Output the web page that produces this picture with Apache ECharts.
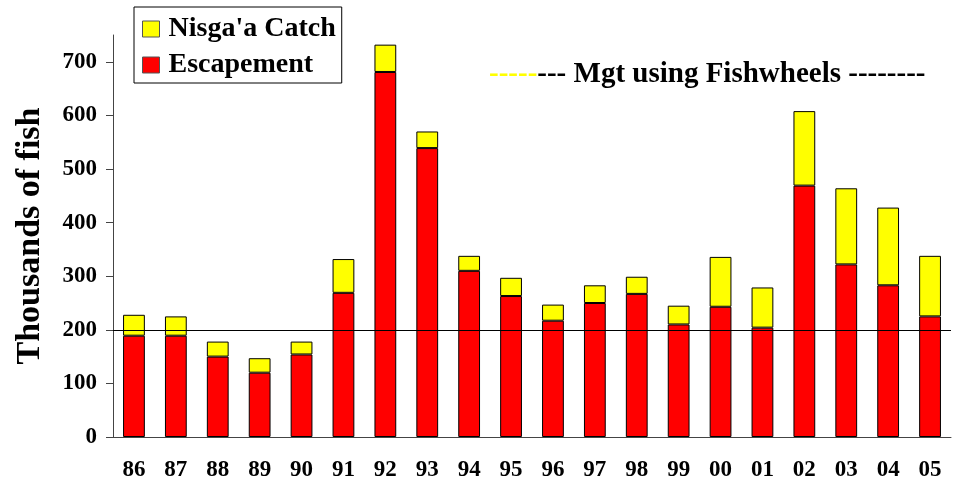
<!DOCTYPE html>
<html><head><meta charset="utf-8">
<script src="https://cdn.jsdelivr.net/npm/echarts@6/dist/echarts.min.js"></script>
<style>html,body{margin:0;padding:0;background:#fff}#c{width:953px;height:482px}</style>
</head><body><div id="c"></div>
<script>
const years = ['86','87','88','89','90','91','92','93','94','95','96','97','98','99','00','01','02','03','04','05'];
const escapement = [189,189,150,120,154,269,681,539,310,263,217,250,267,210,243,204,469,322,283,225];
const catchNisgaa = [39,36,28,27,24,63,51,31,28,34,30,33,32,35,93,75,139,142,145,113];
const yTicks = [0,100,200,300,400,500,600,700];
const refLevel = 200;
const annotation = 'Mgt using Fishwheels';

const F = '"Liberation Serif", "Times New Roman", serif';
const chart = echarts.init(document.getElementById('c'));
chart.setOption({
  animation: false,
  backgroundColor: '#fff',
  title: {
    left: 489, top: 60, padding: 0,
    text: '{y|-----}{b|--- ' + annotation + ' --------}',
    textStyle: {
      rich: {
        y: {color: '#ffff00', fontFamily: F, fontWeight: 'bold', fontSize: 29},
        b: {color: '#000', fontFamily: F, fontWeight: 'bold', fontSize: 29}
      }
    }
  },
  legend: {
    orient: 'vertical', left: 134, top: 7,
    data: ["Nisga'a Catch", 'Escapement'],
    icon: 'rect', itemWidth: 17, itemHeight: 16, itemGap: 8,
    padding: [8, 6, 4, 8],
    borderColor: '#000', borderWidth: 1,
    itemStyle: {borderColor: '#555', borderWidth: 1},
    textStyle: {fontFamily: F, fontWeight: 'bold', fontSize: 28, color: '#000', padding: [0, 0, 0, 4]}
  },
  grid: {left: 113, right: 2, top: 35, bottom: 45, outerBoundsMode: 'none', containLabel: false},
  xAxis: {
    type: 'category', data: years,
    axisLine: {lineStyle: {color: '#444', width: 1}},
    axisTick: {alignWithLabel: false, length: 6, lineStyle: {color: '#444'}},
    axisLabel: {fontFamily: F, fontWeight: 'bold', fontSize: 23, color: '#000', margin: 22}
  },
  yAxis: {
    type: 'value', min: 0, max: 750, interval: 100,
    name: 'Thousands of fish', nameLocation: 'middle', nameGap: 66,
    nameTextStyle: {fontFamily: F, fontWeight: 'bold', fontSize: 34, color: '#000'},
    axisLine: {show: true, lineStyle: {color: '#444'}},
    axisTick: {show: true, length: 7, lineStyle: {color: '#444'}},
    splitLine: {show: false},
    axisLabel: {fontFamily: F, fontWeight: 'bold', fontSize: 23, color: '#000', margin: 16,
      showMaxLabel: false,
      formatter: v => yTicks.indexOf(v) >= 0 ? String(v) : ''}
  },
  series: [
    {
      name: 'Escapement', type: 'bar', stack: 'a', data: escapement, barWidth: '52%',
      itemStyle: {color: '#ff0000', borderColor: '#000', borderWidth: 1},
      markLine: {
        silent: true, symbol: 'none', label: {show: false},
        lineStyle: {color: '#000', width: 1, type: 'solid'},
        data: [{yAxis: refLevel}]
      }
    },
    {
      name: "Nisga'a Catch", type: 'bar', stack: 'a', data: catchNisgaa, barWidth: '52%',
      itemStyle: {color: '#ffff00', borderColor: '#000', borderWidth: 1}
    }
  ]
});
</script></body></html>
